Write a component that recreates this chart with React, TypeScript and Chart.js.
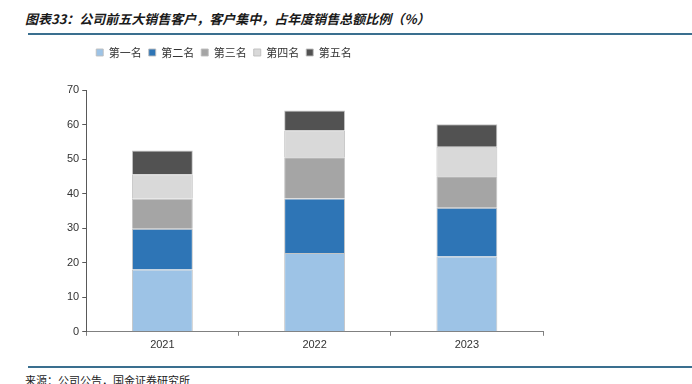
import React, { useEffect, useRef } from "react";
import { Chart, registerables } from "chart.js";

Chart.register(...registerables);

const years = ["2021", "2022", "2023"];
const seriesNames = ["第一名", "第二名", "第三名", "第四名", "第五名"];
const first = [18.0, 22.8, 21.8];
const second = [11.8, 15.8, 14.1];
const third = [8.7, 11.9, 9.1];
const fourth = [7.1, 7.8, 8.6];
const fifth = [6.9, 5.8, 6.5];
const seriesColors = ["#9DC3E6", "#2E75B6", "#A5A5A5", "#D9D9D9", "#525252"];
const yTicks = [0, 10, 20, 30, 40, 50, 60, 70];

const titleText = "图表33：公司前五大销售客户，客户集中，占年度销售总额比例（%）";
const sourceText = "来源：公司公告，国金证券研究所";

const legendPlacement = {
  id: "legendPlacement",
  beforeInit(chart: any) {
    const leg = chart.legend;
    if (leg) {
      const orig = leg.fit;
      leg.fit = function () {
        orig.call(this);
        this.height += 22;
      };
    }
  },
  afterLayout(chart: any) {
    const leg = chart.legend;
    if (leg) {
      leg.left += 3;
      leg.right += 3;
    }
  },
};

export default function App() {
  const ref = useRef<HTMLCanvasElement | null>(null);
  useEffect(() => {
    if (!ref.current) return;
    const values = [first, second, third, fourth, fifth];
    const chart = new Chart(ref.current, {
      type: "bar",
      data: {
        labels: years,
        datasets: seriesNames.map((name, i) => ({
          label: name,
          data: values[i],
          backgroundColor: seriesColors[i],
          borderColor: "rgba(190,190,190,0.9)",
          borderWidth: 1,
          categoryPercentage: 1,
          barPercentage: 0.4,
        })),
      },
      options: {
        animation: false,
        responsive: false,
        maintainAspectRatio: false,
        layout: { padding: { left: 64, right: 149, top: 0, bottom: 5 } },
        plugins: {
          legend: {
            position: "top",
            align: "start",
            fullSize: false,
            labels: {
              boxWidth: 7,
              boxHeight: 7,
              padding: 7,
              color: "#333",
              font: { family: "'Noto Sans CJK SC'", size: 11 },
            },
          },
          tooltip: { enabled: false },
        },
        scales: {
          x: {
            stacked: true,
            grid: {
              display: true,
              drawOnChartArea: false,
              drawTicks: true,
              tickLength: 4,
              color: "#808080",
              offset: true,
            },
            border: { display: true, color: "#808080", width: 1 },
            ticks: {
              color: "#333",
              padding: 3,
              font: { family: "'Liberation Sans', Arial", size: 11 },
            },
          },
          y: {
            stacked: true,
            min: 0,
            max: 70,
            afterBuildTicks: (scale: any) => {
              scale.ticks = yTicks.map((v) => ({ value: v }));
            },
            grid: {
              display: true,
              drawOnChartArea: false,
              drawTicks: true,
              tickLength: 4,
              color: "#595959",
            },
            border: { display: true, color: "#595959", width: 1 },
            ticks: {
              color: "#333",
              padding: 3,
              font: { family: "'Liberation Sans', Arial", size: 11 },
            },
          },
        },
      },
      plugins: [legendPlacement],
    });
    return () => chart.destroy();
  }, []);

  return (
    <div style={{ position: "absolute", left: 0, top: 0, width: 692, height: 384, overflow: "hidden", background: "#fff" }}>
      <div
        style={{
          position: "absolute",
          left: 25,
          top: 10,
          fontFamily: "'Noto Sans CJK SC'",
          fontWeight: 700,
          fontStyle: "italic",
          fontSize: 13,
          lineHeight: "18px",
          color: "#1a1a1a",
          whiteSpace: "nowrap",
        }}
      >
        {titleText}
      </div>
      <div style={{ position: "absolute", left: 28, top: 33, width: 664, height: 2, background: "#3A6F8F" }} />
      <canvas ref={ref} width={692} height={320} style={{ position: "absolute", left: 0, top: 40, width: 692, height: 320 }} />
      <div style={{ position: "absolute", left: 28, top: 366, width: 664, height: 2, background: "#3A6F8F" }} />
      <div
        style={{
          position: "absolute",
          left: 25,
          top: 373,
          fontFamily: "'Noto Sans CJK SC'",
          fontSize: 11,
          lineHeight: "14px",
          color: "#222",
          whiteSpace: "nowrap",
        }}
      >
        {sourceText}
      </div>
    </div>
  );
}
